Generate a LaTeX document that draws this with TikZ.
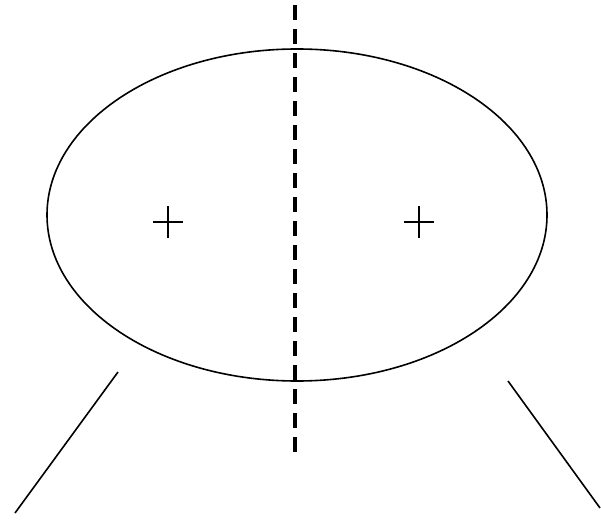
\documentclass[tikz,border=0pt]{standalone}
\begin{document}
\begin{tikzpicture}[x=1pt,y=-1pt,
  thinline/.style={line width=1.6pt,black},
  axisline/.style={line width=4.5pt,black,dash pattern=on 15pt off 9pt},
  crossmark/.style={line width=2pt,black}]
\useasboundingbox (0,0) rectangle (601,526);
\fill[white] (0,0) rectangle (601,526);
\draw[thinline] (297,215) ellipse [x radius=250, y radius=166];
\draw[axisline] (295,5) -- (295,456);
\coordinate (f1) at (168,222);
\coordinate (f2) at (419,222);
\draw[crossmark] ([xshift=-15pt]f1) -- ([xshift=15pt]f1) ([yshift=-16pt]f1) -- ([yshift=16pt]f1);
\draw[crossmark] ([xshift=-15pt]f2) -- ([xshift=15pt]f2) ([yshift=-16pt]f2) -- ([yshift=16pt]f2);
\coordinate (la) at (118,372);
\coordinate (lb) at (15,513);
\coordinate (ra) at (508,381);
\coordinate (rb) at (600,508);
\draw[thinline] (la) -- (lb);
\draw[thinline] (ra) -- (rb);
\end{tikzpicture}
\end{document}
